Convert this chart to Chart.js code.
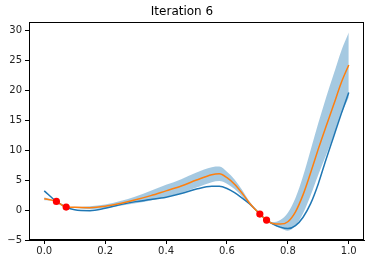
<!DOCTYPE html>
<html>
<head>
<meta charset="utf-8">
<script src="https://cdn.jsdelivr.net/npm/chart.js@4.4.1/dist/chart.umd.min.js"></script>
<style>
  body { margin: 0; background: #fff; }
  canvas { display: block; }
</style>
</head>
<body>
<canvas id="myChart" width="374" height="264"></canvas>
<script>
    // data
    const xs = [0, 0.04, 0.072, 0.1, 0.15, 0.2, 0.25, 0.3, 0.35, 0.4, 0.45, 0.5, 0.55, 0.575,
                0.6, 0.625, 0.65, 0.675, 0.708, 0.73, 0.75, 0.775, 0.8, 0.825, 0.85, 0.875,
                0.9, 0.925, 0.95, 0.975, 1.0];
    const trueY = [3.2, 1.44, 0.49, 0.05, -0.1, 0.3, 0.9, 1.4, 1.75, 2.15, 2.75, 3.5, 3.95, 3.95,
                3.6, 2.9, 2.0, 1.0, -0.67, -1.67, -2.3, -2.85, -3.1, -2.6, -1.2, 1.1,
                4.4, 8.4, 12.2, 16.0, 19.6];
    const meanY = [1.87, 1.44, 0.49, 0.45, 0.4, 0.62, 1.1, 1.7, 2.4, 3.2, 4.0, 5.0, 5.9, 6.05,
                5.4, 4.3, 2.8, 1.1, -0.67, -1.67, -2.25, -2.35, -1.95, -0.3, 2.57, 6.27,
                10.2, 13.9, 17.5, 21.2, 24.2];
    const upperY = [2.12, 1.46, 0.51, 0.55, 0.65, 0.92, 1.5, 2.25, 3.2, 4.2, 5.15, 6.25, 7.15, 7.25,
                6.4, 5.1, 3.35, 1.4, -0.65, -1.65, -2.0, -1.65, -0.45, 2.0, 5.67, 10.07,
                14.5, 18.7, 22.6, 26.5, 29.6];
    const lowerY = [1.62, 1.42, 0.47, 0.35, 0.15, 0.32, 0.7, 1.15, 1.6, 2.2, 2.85, 3.75, 4.65, 4.85,
                4.4, 3.5, 2.25, 0.8, -0.69, -1.69, -2.45, -3.05, -3.45, -2.6, -0.53, 2.47,
                5.9, 9.1, 12.4, 15.9, 18.8];
    const obsX = [0.04, 0.072, 0.708, 0.73];
    const obsY = [1.44, 0.49, -0.67, -1.67];
    const xTicks = [0, 0.2, 0.4, 0.6, 0.8, 1.0];
    const yTicks = [-5, 0, 5, 10, 15, 20, 25, 30];

    function pts(ys) {
      return xs.map(function(x, i) { return {x: x, y: ys[i]}; });
    }

    const font = {family: 'DejaVu Sans', size: 10};

    // setup
    const data = {
      datasets: [{
        data: pts(upperY),
        borderWidth: 0,
        pointRadius: 0,
        cubicInterpolationMode: 'monotone',
        order: 5
      }, {
        data: pts(lowerY),
        borderWidth: 0,
        pointRadius: 0,
        cubicInterpolationMode: 'monotone',
        fill: '-1',
        backgroundColor: 'rgba(31, 119, 180, 0.4)',
        order: 4
      }, {
        data: pts(trueY),
        borderColor: '#1f77b4',
        borderWidth: 1.5,
        pointRadius: 0,
        cubicInterpolationMode: 'monotone',
        order: 3
      }, {
        data: pts(meanY),
        borderColor: '#ff7f0e',
        borderWidth: 1.5,
        pointRadius: 0,
        cubicInterpolationMode: 'monotone',
        order: 2
      }, {
        data: obsX.map(function(x, i) { return {x: x, y: obsY[i]}; }),
        showLine: false,
        pointRadius: 3.6,
        pointBorderWidth: 0,
        pointBackgroundColor: 'red',
        order: 1
      }]
    };

    // box round the plot
    const frame = {
      id: 'frame',
      afterDraw(chart) {
        const a = chart.chartArea, c = chart.ctx;
        c.save();
        c.strokeStyle = '#000';
        c.lineWidth = 1;
        c.strokeRect(Math.round(a.left) + 0.5, Math.round(a.top) + 0.5,
                     Math.round(a.right - a.left) - 1, Math.round(a.bottom - a.top) - 1);
        c.restore();
      }
    };

    // config
    const config = {
      type: 'line',
      data,
      options: {
        responsive: false,
        animation: false,
        devicePixelRatio: 1,
        layout: { padding: { left: 0, right: 10, top: 0, bottom: 0 } },
        plugins: {
          legend: { display: false },
          tooltip: { enabled: false },
          title: {
            display: true,
            text: 'Iteration 6',
            color: '#000',
            font: {family: 'DejaVu Sans', size: 12, weight: 'normal'},
            padding: {top: 5, bottom: 3}
          }
        },
        scales: {
          x: {
            type: 'linear',
            min: -0.05,
            max: 1.05,
            afterBuildTicks: function(s) { s.ticks = xTicks.map(function(v) { return {value: v}; }); },
            afterFit: function(s) { s.height = 24; },
            grid: { drawOnChartArea: false, tickLength: 4, tickColor: '#000' },
            border: { display: true, color: '#000' },
            ticks: {
              color: '#222', font: font, padding: 1, maxRotation: 0,
              callback: function(v) { return v.toFixed(1); }
            }
          },
          y: {
            type: 'linear',
            min: -5,
            max: 31.3,
            afterBuildTicks: function(s) { s.ticks = yTicks.map(function(v) { return {value: v}; }); },
            afterFit: function(s) { s.width = 29; },
            grid: { drawOnChartArea: false, tickLength: 4, tickColor: '#000' },
            border: { display: true, color: '#000' },
            ticks: {
              color: '#222', font: font, padding: 3,
              callback: function(v) { return v < 0 ? '\u2212' + Math.abs(v) : String(v); }
            }
          }
        }
      },
      plugins: [frame]
    };

    // render init block
    const myChart = new Chart(
      document.getElementById('myChart'),
      config
    );
</script>
</body>
</html>
